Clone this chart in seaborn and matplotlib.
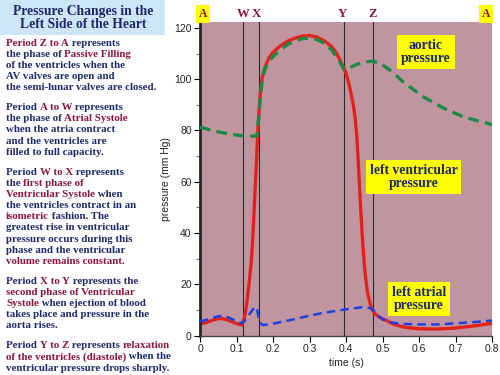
import numpy as np
import pandas as pd
import seaborn as sns
import matplotlib.pyplot as plt

# ---------------------------
# data
# ---------------------------
t_vent = [0, 0.02, 0.04, 0.055, 0.07, 0.09, 0.105, 0.115, 0.12, 0.125, 0.13, 0.135,
          0.14, 0.145, 0.15, 0.155, 0.16, 0.165, 0.17, 0.18, 0.19, 0.2, 0.22, 0.24,
          0.26, 0.28, 0.3, 0.32, 0.34, 0.36, 0.37, 0.38, 0.39, 0.4, 0.41, 0.42,
          0.425, 0.43, 0.435, 0.44, 0.445, 0.45, 0.455, 0.46, 0.47, 0.48, 0.49,
          0.5, 0.51, 0.53, 0.56, 0.6, 0.65, 0.7, 0.75, 0.8]
p_vent = [4.5, 5.3, 6.3, 6.8, 6.4, 5.3, 4.5, 4.2, 6.0, 9.5, 15, 21,
          28, 39, 54, 69, 84, 94, 100.5, 105.5, 108.5, 110.5, 113, 114.8,
          116, 116.8, 117, 116.5, 115, 112.8, 111, 108.5, 105.5, 102.5, 97, 90,
          85, 77, 64, 50, 38, 28, 21, 16, 10.5, 8.5, 7.3,
          6.6, 6.0, 4.5, 3.3, 2.7, 2.6, 3.0, 3.8, 4.8]

t_atr = [0, 0.02, 0.04, 0.055, 0.075, 0.095, 0.114, 0.125, 0.137, 0.147, 0.153,
         0.157, 0.16, 0.164, 0.168, 0.173, 0.19, 0.25, 0.3, 0.33, 0.4, 0.45, 0.47,
         0.48, 0.49, 0.5, 0.52, 0.55, 0.6, 0.65, 0.7, 0.75, 0.8]
p_atr = [5.5, 6.3, 7.2, 7.7, 7.3, 6.0, 4.8, 6.3, 8.7, 10.6, 11.3,
         10.0, 7.4, 5.5, 4.5, 4.2, 4.4, 6.2, 7.8, 8.7, 10.3, 11.2, 10.6,
         9.2, 7.6, 6.4, 5.3, 4.6, 4.4, 4.4, 4.8, 5.3, 5.9]

t_aor = [0, 0.04, 0.08, 0.12, 0.155, 0.158, 0.161, 0.164, 0.168, 0.173, 0.18,
         0.19, 0.2, 0.22, 0.24, 0.26, 0.28, 0.3, 0.32, 0.34, 0.36, 0.38, 0.39,
         0.395, 0.41, 0.43, 0.45, 0.47, 0.49, 0.5, 0.53, 0.556, 0.611, 0.666,
         0.72, 0.76, 0.8]
p_aor = [81.3, 79.8, 78.6, 77.9, 77.8, 80, 85, 91, 97, 101.5, 104.5,
         107, 108.8, 111.5, 113.5, 115, 115.8, 116, 115.5, 114, 111.5, 107.5, 105,
         103.7, 104.5, 105.8, 106.7, 107, 106.5, 105.6, 102.5, 99, 93.2, 88.8,
         85.4, 83.8, 82.3]

phase_t = [0.119, 0.162, 0.394, 0.475]
phase_lbl = ["W", "X", "Y", "Z"]

NAVY = "#1c2a6a"
MAROON = "#8c1538"

# paragraphs: each line is a list of (text, colour) pieces
paragraphs = [
    [[("Period Z to A", MAROON), (" represents", NAVY)],
     [("the phase of ", NAVY), ("Passive Filling", MAROON)],
     [("of the ventricles when the", NAVY)],
     [("AV valves are open and", NAVY)],
     [("the semi-lunar valves are closed.", NAVY)]],
    [[("Period ", NAVY), ("A to W", MAROON), (" represents", NAVY)],
     [("the phase of ", NAVY), ("Atrial Systole", MAROON)],
     [("when the atria contract", NAVY)],
     [("and the ventricles are", NAVY)],
     [("filled to full capacity.", NAVY)]],
    [[("Period ", NAVY), ("W to X", MAROON), (" represents", NAVY)],
     [("the ", NAVY), ("first phase of", MAROON)],
     [("Ventricular Systole", MAROON), (" when", NAVY)],
     [("the ventricles contract in an", NAVY)],
     [("isometric", MAROON), (" fashion. The", NAVY)],
     [("greatest rise in ventricular", NAVY)],
     [("pressure occurs during this", NAVY)],
     [("phase and the ventricular", NAVY)],
     [("volume remains constant.", MAROON)]],
    [[("Period ", NAVY), ("X to Y", MAROON), (" represents the", NAVY)],
     [("second phase of Ventricular", MAROON)],
     [("Systole", MAROON), (" when ejection of blood", NAVY)],
     [("takes place and pressure in the", NAVY)],
     [("aorta rises.", NAVY)]],
    [[("Period ", NAVY), ("Y to Z", MAROON), (" represents ", NAVY), ("relaxation", MAROON)],
     [("of the ventricles (diastole)", MAROON), (" when the", NAVY)],
     [("ventricular pressure drops sharply.", NAVY)]],
]

# ---------------------------
# plot
# ---------------------------
sns.set_theme(style="ticks")
plt.rcParams["font.family"] = ["Liberation Sans", "DejaVu Sans"]

W, H = 500, 375
fig = plt.figure(figsize=(5, 3.75), dpi=100)
ax = fig.add_axes([200 / W, 1 - 335.7 / H, 292 / W, (335.7 - 22) / H])
ax.set_facecolor("#c0959f")

vent = pd.DataFrame({"t": t_vent, "p": p_vent})
atr = pd.DataFrame({"t": t_atr, "p": p_atr})
aor = pd.DataFrame({"t": t_aor, "p": p_aor})

for tx in phase_t:
    ax.axvline(tx, color="#2a2a2a", lw=0.8, zorder=1)

sns.lineplot(data=aor, x="t", y="p", ax=ax, color="#1a8a45", lw=2.4,
             zorder=3, sort=False).lines[-1].set_dashes([3.2, 1.9])
sns.lineplot(data=atr, x="t", y="p", ax=ax, color="#1f3ee6", lw=1.8,
             zorder=4, sort=False).lines[-1].set_dashes([3.4, 2.1])
sns.lineplot(data=vent, x="t", y="p", ax=ax, color="#e2231c", lw=2.4,
             zorder=2, sort=False)

ax.set_xlim(0, 0.8)
ax.set_ylim(0, 122.3)
ax.set_xticks(np.arange(0, 0.81, 0.1))
ax.set_xticklabels(["0", "0.1", "0.2", "0.3", "0.4", "0.5", "0.6", "0.7", "0.8"])
ax.set_yticks(range(0, 121, 20))
ax.set_yticks(range(10, 121, 20), minor=True)
ax.tick_params(axis="both", labelsize=7.5, length=4, width=0.8, colors="black", pad=2)
ax.tick_params(axis="both", labelcolor="#222222")
ax.tick_params(axis="y", which="minor", length=3, width=0.8, color="#777777")
ax.set_xlabel("time (s)", fontsize=7.5, labelpad=3, color="#222222")
ax.set_ylabel("pressure (mm Hg)", fontsize=7.5, labelpad=2, color="#222222")
sns.despine(ax=ax, top=True, right=True)
ax.spines["left"].set_linewidth(2)
ax.spines["bottom"].set_linewidth(1)
ax.spines["bottom"].set_color("#444444")

serif = ["Liberation Serif", "DejaVu Serif"]
box = dict(boxstyle="square,pad=0.3", facecolor="#ffff00", edgecolor="none")
for tx, py, lbl in [(0.619, 110.5, "aortic\npressure"),
                    (0.585, 62.0, "left ventricular\npressure"),
                    (0.6, 14.4, "left atrial\npressure")]:
    ax.text(tx, py, lbl, ha="center", va="center", fontsize=9.8, fontweight="bold",
            family=serif, color=NAVY, bbox=box, linespacing=1.0)

# phase letters above the plot
for tx, lb in zip(phase_t, phase_lbl):
    dx = {"W": 0.0, "X": -0.007, "Y": -0.004, "Z": -0.003}[lb]
    ax.text(tx + dx, 1.005, lb, transform=ax.get_xaxis_transform(), ha="center",
            va="bottom", fontsize=9.2, fontweight="bold", family=serif, color=MAROON)
abox = dict(boxstyle="square,pad=0.25", facecolor="#ffff00", edgecolor="none")
for px in [203, 486]:
    fig.text(px / W, 1 - 14 / H, "A", ha="center", va="center", fontsize=8.5,
             fontweight="bold", family=serif, color=MAROON, bbox=abox)

# title box + text panel on the left
fig.patches.append(plt.Rectangle((0, 1 - 35 / H), 165 / W, 35 / H, transform=fig.transFigure,
                                 facecolor="#cde6f7", edgecolor="none", zorder=0))
fig.text(83 / W, 1 - 17.5 / H, "Pressure Changes in the\nLeft Side of the Heart",
         ha="center", va="center", fontsize=9.8, fontweight="bold", family=serif,
         color=NAVY, linespacing=1.0)

renderer = fig.canvas.get_renderer()
y = 43
for para in paragraphs:
    for line in para:
        x = 6
        for txt, col in line:
            tobj = fig.text(x / W, 1 - y / H, txt, ha="left", va="center", fontsize=7.8,
                            fontweight="bold", family=serif, color=col)
            bb = tobj.get_window_extent(renderer)
            x = bb.x1
        y += 11.15
    y += 8.8

fig.savefig("out.png", dpi=100)
